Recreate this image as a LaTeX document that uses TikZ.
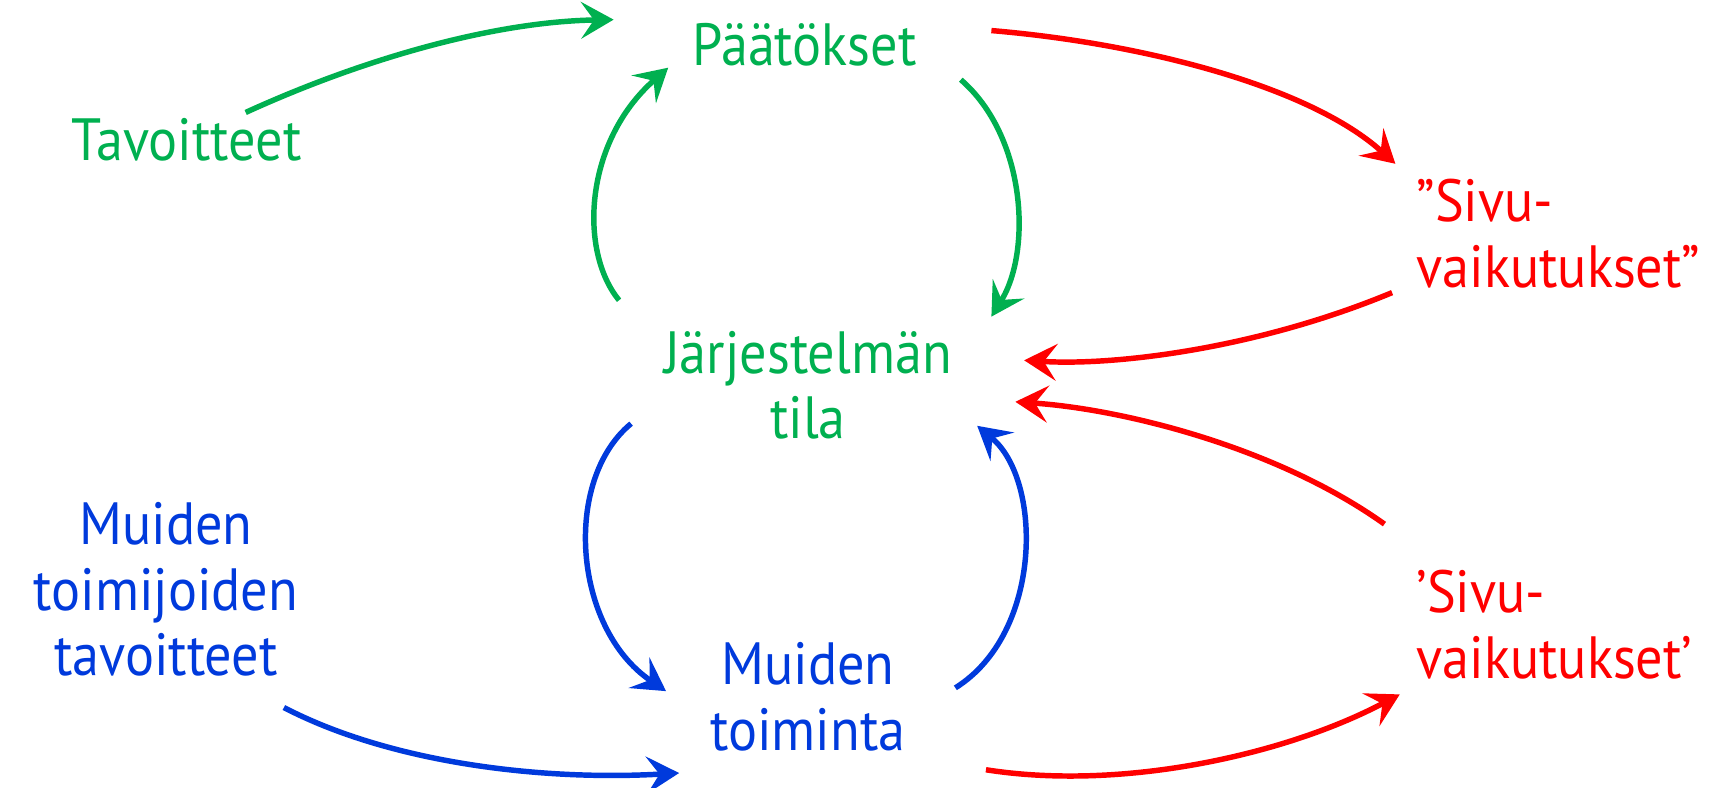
\documentclass[tikz,border=0pt]{standalone}
\usepackage{fontspec}
\setmainfont[FakeStretch=0.91]{PT Sans}
\usetikzlibrary{arrows.meta}
\definecolor{cgreen}{RGB}{0,176,80}
\definecolor{cred}{RGB}{255,0,0}
\definecolor{cblue}{RGB}{0,58,220}
\begin{document}
\begin{tikzpicture}[x=0.5pt,y=-0.5pt,
  lbl/.style={font=\fontsize{27.3}{30}\selectfont, align=center, inner sep=0pt},
  conn/.style={line width=2.5pt, -{Stealth[length=15pt,width=17pt,inset=6pt,line width=1.2pt,line join=miter]}}]
\useasboundingbox (0,0) rectangle (1568,721);
% texts (multi-line nodes are placed by the baseline of their last line)
\node[lbl,text=cgreen,anchor=base] (paat) at (737,60) {Päätökset};
\node[lbl,text=cgreen,anchor=base] (tav) at (171,147) {Tavoitteet};
\node[lbl,text=cgreen,anchor=base] (jarj) at (740,402) {Järjestelmän\\tila};
\node[lbl,text=cred,anchor=base west,align=left] (siv1) at (1297,263) {”Sivu-\\vaikutukset”};
\node[lbl,text=cred,anchor=base west,align=left] (siv2) at (1297,621) {’Sivu-\\vaikutukset’};
\node[lbl,text=cblue,anchor=base] (mtt) at (152,619) {Muiden\\toimijoiden\\tavoitteet};
\node[lbl,text=cblue,anchor=base] (mt) at (740,687) {Muiden\\toiminta};
% connector end points
\coordinate (a1s) at (225,103);  \coordinate (a1e) at (562,18);
\coordinate (a2s) at (567,275);  \coordinate (a2e) at (612,62);
\coordinate (a3s) at (880,73);   \coordinate (a3e) at (908,290);
\coordinate (a4s) at (908,28);   \coordinate (a4e) at (1278,150);
\coordinate (a5s) at (1275,268); \coordinate (a5e) at (938,330);
\coordinate (a6s) at (1268,480); \coordinate (a6e) at (930,368);
\coordinate (a7s) at (578,388);  \coordinate (a7e) at (610,633);
\coordinate (a8s) at (875,630);  \coordinate (a8e) at (895,390);
\coordinate (a9s) at (260,648);  \coordinate (a9e) at (622,708);
\coordinate (a10s) at (903,705); \coordinate (a10e) at (1282,636);
% green
\draw[conn,cgreen] (a1s) .. controls (330,55) and (450,20) .. (a1e);
\draw[conn,cgreen] (a2s) .. controls (530,230) and (535,130) .. (a2e);
\draw[conn,cgreen] (a3s) .. controls (940,125) and (945,230) .. (a3e);
% red
\draw[conn,cred] (a4s) .. controls (1050,40) and (1200,80) .. (a4e);
\draw[conn,cred] (a5s) .. controls (1150,320) and (1020,335) .. (a5e);
\draw[conn,cred] (a6s) .. controls (1170,410) and (1030,375) .. (a6e);
\draw[conn,cred] (a10s) .. controls (1030,725) and (1180,690) .. (a10e);
% blue
\draw[conn,cblue] (a7s) .. controls (515,440) and (525,575) .. (a7e);
\draw[conn,cblue] (a8s) .. controls (955,580) and (955,440) .. (a8e);
\draw[conn,cblue] (a9s) .. controls (360,700) and (500,715) .. (a9e);
\end{tikzpicture}
\end{document}
